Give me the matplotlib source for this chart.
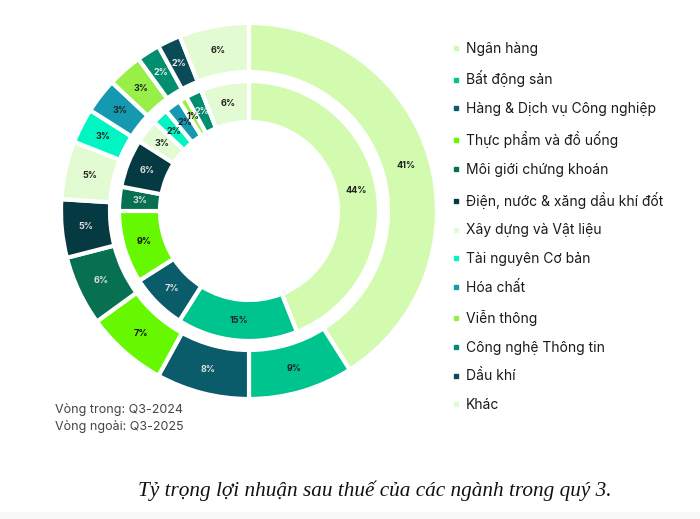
import matplotlib.pyplot as plt
from matplotlib.lines import Line2D
from matplotlib.patches import Rectangle

# dữ liệu
nganh = ['Ngân hàng', 'Bất động sản', 'Hàng & Dịch vụ Công nghiệp',
         'Thực phẩm và đồ uống', 'Môi giới chứng khoán',
         'Điện, nước & xăng dầu khí đốt', 'Xây dựng và Vật liệu',
         'Tài nguyên Cơ bản', 'Hóa chất', 'Viễn thông',
         'Công nghệ Thông tin', 'Dầu khí', 'Khác']
q3_2024 = [44, 15, 7, 9, 3, 6, 3, 2, 2, 1, 2, 0, 6]   # vòng trong
q3_2025 = [41, 9, 8, 7, 6, 5, 5, 3, 3, 3, 2, 2, 6]    # vòng ngoài

mau = ['#d2fbb0', '#00c48e', '#0b5c6a', '#66f800', '#077050', '#063a42',
       '#e2fbd2', '#00f5c3', '#1499b0', '#98ef48', '#008e6e', '#0b4a57',
       '#e2fbd2']
# màu chữ nhãn: tối trên nền sáng, sáng trên nền tối
mau_chu = ['#222', '#222', '#ddd', '#111', '#ddd', '#ddd', '#222', '#222',
           '#222', '#222', '#e8e8e8', '#e8e8e8', '#222']

plt.rcParams['font.family'] = ['Inter', 'DejaVu Sans']

fig = plt.figure(figsize=(7, 5.19), dpi=100)
fig.patch.set_facecolor('white')

# tâm ~ (249, 211) px, bán kính ngoài ~ 188 px
R = 188
cx, cy = 249, 211
ax = fig.add_axes([(cx - R) / 700, (519 - cy - R) / 519, 2 * R / 700, 2 * R / 519])

w_out = 49 / R
r_in = 130 / R
w_in = 41 / R


def pct(p):
    return f'{p:.0f}%' if p > 0.5 else ''


kw = dict(startangle=90, counterclock=False, colors=mau, autopct=pct,
          textprops=dict(fontsize=6.5, fontweight='bold'))

wo, _, to = ax.pie(q3_2025, radius=1, pctdistance=1 - w_out / 2,
                   wedgeprops=dict(width=w_out, edgecolor='white', linewidth=3), **kw)
wi, _, ti = ax.pie(q3_2024, radius=r_in, pctdistance=(r_in - w_in / 2) / r_in,
                   wedgeprops=dict(width=w_in, edgecolor='white', linewidth=3), **kw)

for t, c in zip(to, mau_chu):
    t.set_color(c)
for t, c in zip(ti, mau_chu):
    t.set_color(c)

ax.set_xlim(-1, 1)
ax.set_ylim(-1, 1)
ax.set_aspect('equal')
ax.axis('off')

# chú thích
handles = [Line2D([], [], marker='s', linestyle='', markersize=3,
                  markerfacecolor=c, markeredgecolor=c) for c in mau]
fig.legend(handles, nganh, loc='upper left', bbox_to_anchor=(439 / 700, 1 - 29 / 519),
           frameon=False, fontsize=10, handlelength=0.6, handletextpad=0.45,
           labelspacing=1.065, labelcolor='#1a1a1a')

fig.text(55 / 700, 1 - 410 / 519, 'Vòng trong: Q3-2024', fontsize=9, color='#444',
         va='center')
fig.text(55 / 700, 1 - 427 / 519, 'Vòng ngoài: Q3-2025', fontsize=9, color='#444',
         va='center')

fig.text(375 / 700, 1 - 491 / 519, 'Tỷ trọng lợi nhuận sau thuế của các ngành trong quý 3.',
         family=['Liberation Serif', 'DejaVu Serif'], style='italic', fontsize=15.3,
         ha='center', va='center', color='#111')

# dải xám mờ ở đáy
fig.patches.append(Rectangle((0, 0), 1, 7 / 519, transform=fig.transFigure,
                             facecolor='#f8f8f8', edgecolor='none'))

fig.savefig('out.png', dpi=100)
